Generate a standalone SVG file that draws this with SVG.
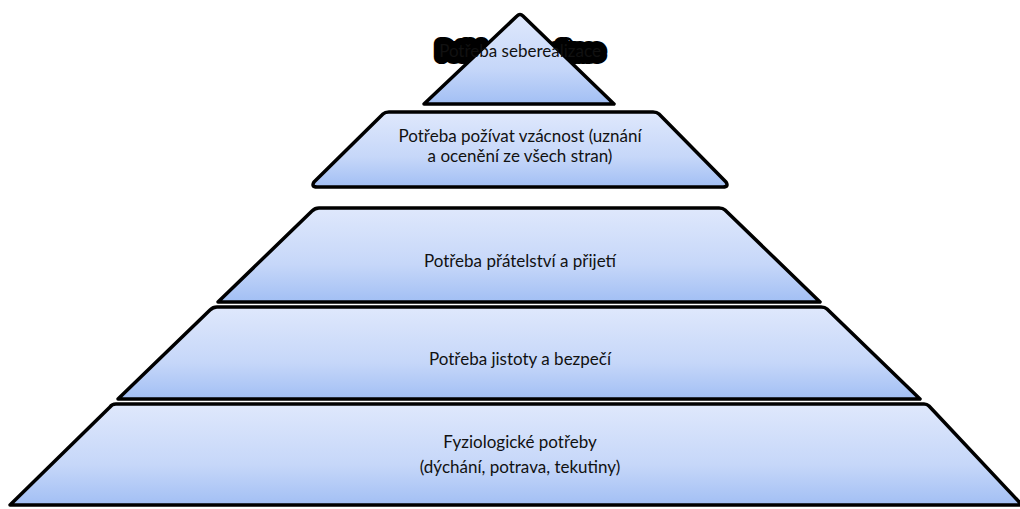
<svg xmlns="http://www.w3.org/2000/svg" width="1020" height="509" viewBox="0 0 1020 509">
<defs>
<linearGradient id="g" x1="0" y1="0" x2="0" y2="1">
<stop offset="0" stop-color="#dfe8fc"/>
<stop offset="0.6" stop-color="#c6d7f9"/>
<stop offset="1" stop-color="#a2bff4"/>
</linearGradient>
</defs>
<style>
.layer{fill:url(#g);stroke:#000;stroke-width:3.5;stroke-linejoin:round}
.t{font-family:Lato,"Liberation Sans",sans-serif;font-size:17px;fill:#111;text-anchor:middle}
.blob{stroke:#000;stroke-width:14;stroke-linejoin:round;stroke-linecap:round;fill:#000}
</style>
<rect width="1020" height="509" fill="#fff"/>
<g id="layer5">
<path class="layer" d="M116,404 L924,404 Q927,404 929,406 L1022,505 L10,505 L110,407 Q112,404 116,404 Z"/>
<text class="t" x="520" y="448">Fyziologické potřeby</text>
<text class="t" x="520" y="473">(dýchání, potrava, tekutiny)</text>
</g>
<g id="layer4">
<path class="layer" d="M217,307 L821,307 Q825,307 827,309 L920,399 L118,399 L210,310 Q213,307 217,307 Z"/>
<text class="t" x="520" y="365">Potřeba jistoty a bezpečí</text>
</g>
<g id="layer3">
<path class="layer" d="M319,208 L719,208 Q723,208 725,210 L820,302 L218,302 L312,211 Q315,208 319,208 Z"/>
<text class="t" x="520" y="267">Potřeba přátelství a přijetí</text>
</g>
<g id="layer2">
<path class="layer" d="M389,112 L653,112 Q657,112 659,114 L726,182 Q729,187 723,187 L317,187 Q311,187 314,182 L383,114 Q385,112 389,112 Z"/>
<text class="t" x="520" y="142">Potřeba požívat vzácnost (uznání</text>
<text class="t" x="520" y="162">a ocenění ze všech stran)</text>
</g>
<g id="layer1">
<text class="t blob" x="520" y="57">Potřeba seberealizace</text>
<path class="layer" d="M517,16 Q520,13 523,16 L614,104 L424,104 Z"/>
<text class="t" x="520" y="57">Potřeba seberealizace</text>
</g>
<g id="connectors"/>
</svg>
